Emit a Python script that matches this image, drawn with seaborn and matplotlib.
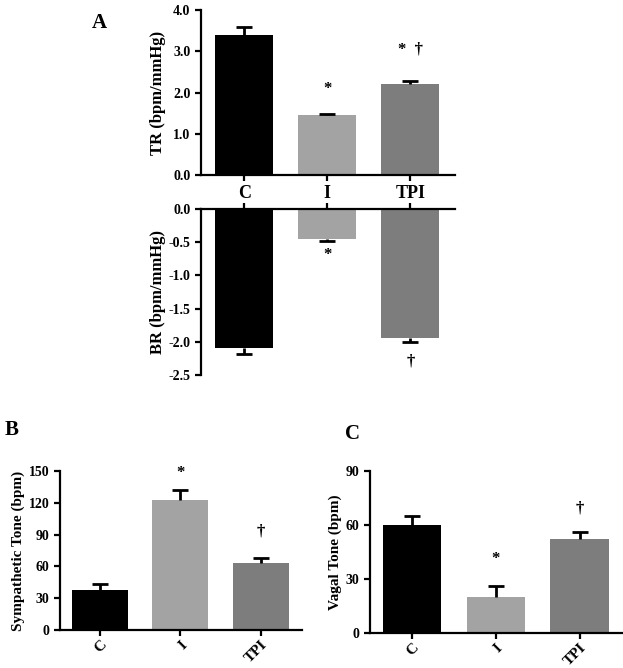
import numpy as np
import pandas as pd
import matplotlib
matplotlib.use("Agg")
import matplotlib.pyplot as plt
import seaborn as sns

groups = ["C", "I", "TPI"]
colors = ["#000000", "#a3a3a3", "#7d7d7d"]

tr_mean = [3.40, 1.45, 2.20]
tr_err = [0.20, 0.03, 0.07]
tr_marks = ["", "*", "*  \u2020"]
tr_mark_y = [0, 2.08, 3.05]

br_mean = [-2.10, -0.45, -1.95]
br_err = [0.08, 0.03, 0.05]
br_marks = ["", "*", "\u2020"]
br_mark_y = [0, -0.70, -2.29]

symp_mean = [38, 123, 63]
symp_err = [5, 9, 5]
symp_marks = ["", "*", "\u2020"]
symp_mark_y = [0, 148, 93]

vagal_mean = [60, 20, 52]
vagal_err = [5, 6, 4]
vagal_marks = ["", "*", "\u2020"]
vagal_mark_y = [0, 41, 69]

sns.set_style("ticks")
plt.rcParams["font.family"] = ["Liberation Serif", "DejaVu Serif"]
plt.rcParams["font.weight"] = "bold"
plt.rcParams["text.color"] = "black"
plt.rcParams["axes.labelcolor"] = "black"
plt.rcParams["xtick.color"] = "black"
plt.rcParams["ytick.color"] = "black"
plt.rcParams["axes.edgecolor"] = "black"
plt.rcParams["axes.unicode_minus"] = False
plt.rcParams["axes.linewidth"] = 1.6
plt.rcParams["xtick.major.width"] = 1.6
plt.rcParams["ytick.major.width"] = 1.6
plt.rcParams["xtick.major.size"] = 4
plt.rcParams["ytick.major.size"] = 4

palette = dict(zip(groups, colors))


def bars(ax, means, errs, marks, mark_y, below=False, mfs=12):
    df = pd.DataFrame({"group": groups, "value": means})
    sns.barplot(data=df, x="group", y="value", hue="group", palette=palette,
                width=0.7, linewidth=0, legend=False, ax=ax)
    zeros = np.zeros(len(errs))
    yerr = [errs, zeros] if below else [zeros, errs]
    eb = ax.errorbar(range(len(groups)), means, yerr=yerr, fmt="none",
                     ecolor="black", elinewidth=2, capsize=6, capthick=2)
    # one-sided error bars: drop the cap that sits on the bar end
    for cap in eb[1]:
        if np.allclose(cap.get_ydata(), means):
            cap.set_visible(False)
    for i, (m, y) in enumerate(zip(marks, mark_y)):
        if m:
            ax.text(i, y, m, ha="center", va="center", fontsize=mfs,
                    fontweight="bold")
    ax.set_xlabel("")


fig = plt.figure(figsize=(6.23, 6.68), dpi=100)

# panel A, top (TR)
ax1 = fig.add_axes([0.3226, 0.738, 0.408, 0.247])
bars(ax1, tr_mean, tr_err, tr_marks, tr_mark_y)
ax1.set_ylim(0, 4.0)
ax1.set_xlim(-0.52, 2.54)
ax1.set_yticks([0, 1, 2, 3, 4])
ax1.set_yticklabels([f"{v:.1f}" for v in [0, 1, 2, 3, 4]], fontsize=10)
ax1.set_xticks(range(3))
ax1.set_xticklabels(groups, fontsize=13)
ax1.set_ylabel("TR (bpm/mmHg)", fontsize=12, fontweight="bold", labelpad=5)
sns.despine(ax=ax1)

# panel A, bottom (BR)
ax2 = fig.add_axes([0.3226, 0.4386, 0.408, 0.2485])
bars(ax2, br_mean, br_err, br_marks, br_mark_y, below=True)
ax2.set_ylim(-2.5, 0)
ax2.set_xlim(-0.52, 2.54)
ticks = [0, -0.5, -1.0, -1.5, -2.0, -2.5]
ax2.set_yticks(ticks)
ax2.set_yticklabels([f"{v:.1f}" for v in ticks], fontsize=10)
ax2.set_xticks(range(3))
ax2.xaxis.tick_top()
ax2.set_xticklabels([])
ax2.spines["bottom"].set_visible(False)
ax2.spines["right"].set_visible(False)
ax2.set_ylabel("BR (bpm/mmHg)", fontsize=12, fontweight="bold", labelpad=2)

# panel B
ax3 = fig.add_axes([0.0963, 0.0569, 0.389, 0.238])
bars(ax3, symp_mean, symp_err, symp_marks, symp_mark_y)
ax3.set_ylim(0, 150)
ax3.set_xlim(-0.5, 2.52)
ax3.set_yticks(range(0, 151, 30))
ax3.tick_params(axis="y", labelsize=10)
ax3.tick_params(axis="x", pad=2)
ax3.set_xticks(range(3))
ax3.set_xticklabels(groups, rotation=45, fontsize=11, ha="right",
                    rotation_mode="anchor")
ax3.set_ylabel("Sympathetic Tone (bpm)", fontsize=11, fontweight="bold",
               labelpad=3)
sns.despine(ax=ax3)

# panel C
ax4 = fig.add_axes([0.594, 0.0524, 0.404, 0.2426])
bars(ax4, vagal_mean, vagal_err, vagal_marks, vagal_mark_y)
ax4.set_ylim(0, 90)
ax4.set_xlim(-0.5, 2.5)
ax4.set_yticks(range(0, 91, 30))
ax4.tick_params(axis="y", labelsize=10)
ax4.tick_params(axis="x", pad=2)
ax4.set_xticks(range(3))
ax4.set_xticklabels(groups, rotation=45, fontsize=11, ha="right",
                    rotation_mode="anchor")
ax4.set_ylabel("Vagal Tone (bpm)", fontsize=11, fontweight="bold", labelpad=3)
sns.despine(ax=ax4)

fig.text(0.147, 0.98, "A", fontsize=15, fontweight="bold", ha="left", va="top")
fig.text(0.008, 0.372, "B", fontsize=15, fontweight="bold", ha="left", va="top")
fig.text(0.553, 0.365, "C", fontsize=15, fontweight="bold", ha="left", va="top")

fig.savefig("out.png", dpi=100)
